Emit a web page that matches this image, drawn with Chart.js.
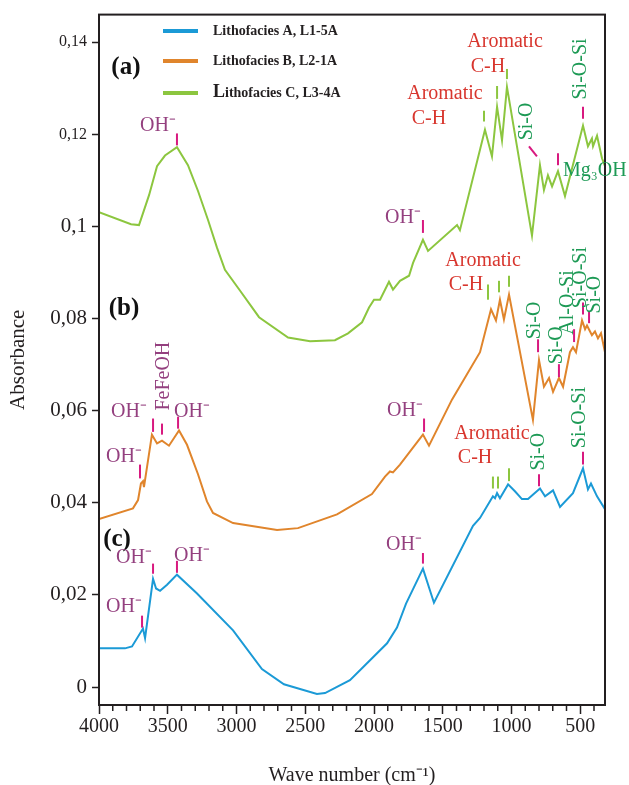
<!DOCTYPE html>
<html><head><meta charset="utf-8">
<script src="https://cdn.jsdelivr.net/npm/chart.js@4/dist/chart.umd.min.js"></script>
<style>html,body{margin:0;padding:0;background:#fff;}#wrap{width:629px;height:785px;}</style>
</head><body><div id="wrap"><canvas id="c" width="629" height="785"></canvas></div>
<script>
// ---------- data ----------
const seriesNames = ['Lithofacies A, L1-5A', 'Lithofacies B, L2-1A', 'Lithofacies C, L3-4A'];
const seriesColors = ['#1b9ad6', '#e0852c', '#8cc63f'];

const waveA = [4000,3811,3760,3680,3665,3607,3585,3556,3505,3433,3287,3025,2815,2655,2415,2356,2175,2080,1905,1833,1767,1644,1564,1280,1229,1135,1120,1105,1084,1025,975,924,880,793,756,698,647,553,480,444,422,378,320];
const absA  = [0.0084,0.0084,0.0088,0.0127,0.0106,0.0235,0.0214,0.0209,0.0222,0.0244,0.0203,0.0123,0.0039,0.0006,-0.0015,-0.0013,0.0015,0.0043,0.0095,0.0129,0.0181,0.0257,0.0183,0.0350,0.0367,0.0414,0.0410,0.0421,0.0410,0.0440,0.0425,0.0408,0.0408,0.0431,0.0414,0.0427,0.0391,0.0421,0.0475,0.0429,0.0442,0.0414,0.0386];

const waveB = [4000,3753,3716,3695,3680,3673,3615,3578,3542,3491,3418,3360,3280,3215,3171,3025,2705,2553,2269,2015,1920,1884,1862,1811,1644,1600,1433,1229,1149,1113,1084,1055,1018,844,800,764,727,698,655,625,575,553,531,487,465,451,415,393,371,349,320];
const absB  = [0.0365,0.0388,0.0406,0.0442,0.0447,0.0434,0.0548,0.0529,0.0535,0.0524,0.0557,0.0526,0.0462,0.0403,0.0378,0.0356,0.0341,0.0345,0.0375,0.0419,0.0457,0.0468,0.0466,0.0483,0.0548,0.0524,0.0624,0.0727,0.0820,0.0796,0.0841,0.0798,0.0852,0.0580,0.0710,0.0652,0.0671,0.0641,0.0671,0.0652,0.0727,0.0738,0.0727,0.0796,0.0777,0.0785,0.0764,0.0772,0.0757,0.0768,0.0727];

const waveC = [4000,3767,3709,3636,3578,3520,3433,3353,3280,3207,3142,3084,2975,2836,2625,2465,2284,2189,2087,2036,2000,1956,1891,1862,1811,1745,1716,1644,1607,1396,1375,1193,1142,1105,1069,1033,851,793,764,735,705,662,611,480,444,415,407,378,342,320];
const absC  = [0.1031,0.1005,0.1003,0.1068,0.1131,0.1154,0.1172,0.1133,0.1077,0.1014,0.0954,0.0906,0.0861,0.0803,0.0759,0.0751,0.0753,0.0768,0.0792,0.0824,0.0841,0.0841,0.0880,0.0863,0.0882,0.0893,0.0921,0.0971,0.0947,0.1003,0.0992,0.1210,0.1152,0.1260,0.1187,0.1303,0.0980,0.1133,0.1079,0.1111,0.1087,0.1120,0.1066,0.1219,0.1174,0.1191,0.1174,0.1197,0.1148,0.1131];

const xTicks = [4000,3500,3000,2500,2000,1500,1000,500];
const xMinorStep = 100;
const yTicks = [0,0.02,0.04,0.06,0.08,0.1,0.12,0.14];
const yTickLabels = ['0','0,02','0,04','0,06','0,08','0,1','0,12','0,14'];
const xRange = [320, 4000];
const yRange = [-0.0039, 0.146];

// band annotations: [text, wave, absorbance, kind]
const bandLabels = [
  ['(a)',3804,0.1346,'panel'],['(b)',3818,0.0822,'panel'],['(c)',3869,0.0321,'panel'],
  // (a)
  ['OH⁻',3571,0.1219,'oh'],['OH⁻',1789,0.1020,'oh'],
  ['Aromatic',1484,0.1288,'aro'],['C-H',1600,0.1234,'aro'],
  ['Aromatic',1047,0.1400,'aro'],['C-H',1171,0.1346,'aro'],
  ['Si-O',887,0.1228,'vgreen'],['Si-O-Si',495,0.1342,'vgreen'],['Mg₃OH',625,0.1122,'green'],
  // (b)
  ['Aromatic',1207,0.0926,'aro'],['C-H',1331,0.0874,'aro'],
  ['Si-O',829,0.0796,'vgreen'],['Si-O',669,0.0742,'vgreen'],['Al-O-Si',589,0.0835,'vgreen'],
  ['Si-O-Si',495,0.0889,'vgreen'],['Si-O',393,0.0852,'vgreen'],
  ['OH⁻',1775,0.0600,'oh'],['OH⁻',3818,0.0501,'oh'],['OH⁻',3782,0.0598,'oh'],
  ['FeFeOH',3527,0.0675,'voh'],['OH⁻',3324,0.0598,'oh'],
  // (c)
  ['OH⁻',3745,0.0280,'oh'],['OH⁻',3324,0.0285,'oh'],['OH⁻',3818,0.0175,'oh'],['OH⁻',1782,0.0309,'oh'],
  ['Aromatic',1142,0.0550,'aro'],['C-H',1265,0.0498,'aro'],
  ['Si-O',800,0.0511,'vgreen'],['Si-O-Si',502,0.0585,'vgreen']
];
// band markers: [wave1, abs1, wave2, abs2, kind]
const bandMarks = [
  [3433,0.1202,3433,0.1176,'m'],[1644,0.1014,1644,0.0986,'m'],
  [1200,0.1251,1200,0.1228,'g'],[1105,0.1305,1105,0.1277,'g'],[1033,0.1342,1033,0.1320,'g'],
  [873,0.1174,815,0.1152,'m'],[480,0.1260,480,0.1234,'m'],[662,0.1159,662,0.1133,'m'],
  [1171,0.0874,1171,0.0841,'g'],[1091,0.0882,1091,0.0857,'g'],[1018,0.0893,1018,0.0869,'g'],
  [807,0.0755,807,0.0727,'m'],[655,0.0701,655,0.0673,'m'],[545,0.0777,545,0.0749,'m'],
  [480,0.0835,480,0.0809,'m'],[436,0.0816,436,0.0790,'m'],[1636,0.0583,1636,0.0554,'m'],
  [3702,0.0483,3702,0.0453,'m'],[3607,0.0583,3607,0.0554,'m'],[3542,0.0572,3542,0.0548,'m'],
  [3425,0.0587,3425,0.0561,'m'],
  [3607,0.0268,3607,0.0246,'m'],[3433,0.0274,3433,0.0248,'m'],[3687,0.0155,3687,0.0129,'m'],
  [1644,0.0291,1644,0.0268,'m'],
  [1135,0.0457,1135,0.0431,'g'],[1098,0.0457,1098,0.0431,'g'],[1018,0.0475,1018,0.0447,'g'],
  [800,0.0462,800,0.0436,'m'],[480,0.0511,480,0.0483,'m']
];

// ---------- chart ----------
const SERIF = '"Liberation Serif", "Times New Roman", serif';
const INK = '#231f20';
const styles = {
  panel: {color:'#111', font:'bold 25px '+SERIF, rot:false},
  oh:    {color:'#94407f', font:'20px '+SERIF, rot:false},
  voh:   {color:'#94407f', font:'20px '+SERIF, rot:true},
  aro:   {color:'#d8362e', font:'20px '+SERIF, rot:false},
  vgreen:{color:'#1d9a55', font:'20px '+SERIF, rot:true},
  green: {color:'#1d9a55', font:'20px '+SERIF, rot:false, left:true}
};
const markColors = {m:'#d8197f', g:'#8cc63f'};

function pts(xs, ys){ return xs.map((x,i)=>({x:x, y:ys[i]})); }

const overlay = {
  id:'overlay',
  afterDatasetsDraw(chart){
    const {ctx, chartArea:ca, scales:{x, y}} = chart;
    ctx.save();
    // frame
    ctx.strokeStyle = INK; ctx.lineWidth = 2;
    ctx.strokeRect(ca.left, ca.top, ca.right-ca.left, ca.bottom-ca.top);
    // minor ticks
    ctx.lineWidth = 1.5;
    for (let w = 400; w <= xRange[1]; w += xMinorStep){
      if (xTicks.includes(w)) continue;
      const px = x.getPixelForValue(w);
      ctx.beginPath(); ctx.moveTo(px, ca.bottom); ctx.lineTo(px, ca.bottom+6); ctx.stroke();
    }
    // legend
    const lx = 163, ly = [31, 61, 93];
    chart.data.datasets.forEach((ds, i) => {
      ctx.strokeStyle = ds.borderColor; ctx.lineWidth = 4;
      ctx.beginPath(); ctx.moveTo(lx, ly[i]); ctx.lineTo(lx+35, ly[i]); ctx.stroke();
      ctx.fillStyle = INK; ctx.textBaseline = 'middle'; ctx.textAlign = 'left';
      const name = ds.label;
      if (i === 2) {
        ctx.font = 'bold 18px '+SERIF;
        ctx.fillText(name[0], 213, ly[i]-1);
        const w0 = ctx.measureText(name[0]).width;
        ctx.font = 'bold 14px '+SERIF;
        ctx.fillText(name.slice(1), 213+w0, ly[i]);
      } else {
        ctx.font = 'bold 14px '+SERIF;
        ctx.fillText(name, 213, ly[i]);
      }
    });
    // markers
    bandMarks.forEach(m => {
      ctx.strokeStyle = markColors[m[4]]; ctx.lineWidth = 2;
      ctx.beginPath();
      ctx.moveTo(x.getPixelForValue(m[0]), y.getPixelForValue(m[1]));
      ctx.lineTo(x.getPixelForValue(m[2]), y.getPixelForValue(m[3]));
      ctx.stroke();
    });
    // labels
    bandLabels.forEach(l => {
      const st = styles[l[3]];
      const px = x.getPixelForValue(l[1]), py = y.getPixelForValue(l[2]);
      ctx.fillStyle = st.color; ctx.font = st.font; ctx.textBaseline = 'middle';
      if (st.rot) {
        ctx.save(); ctx.translate(px, py); ctx.rotate(-Math.PI/2);
        ctx.textAlign = 'center'; ctx.fillText(l[0], 0, 0); ctx.restore();
      } else {
        ctx.textAlign = st.left ? 'left' : 'center';
        ctx.fillText(l[0], px, py);
      }
    });
    ctx.restore();
  }
};

new Chart(document.getElementById('c'), {
  type: 'line',
  data: {
    datasets: [
      {label: seriesNames[0], data: pts(waveA, absA), borderColor: seriesColors[0]},
      {label: seriesNames[1], data: pts(waveB, absB), borderColor: seriesColors[1]},
      {label: seriesNames[2], data: pts(waveC, absC), borderColor: seriesColors[2]}
    ].map(d => Object.assign(d, {borderWidth: 2, pointRadius: 0, tension: 0, fill: false}))
  },
  options: {
    responsive: false, animation: false, devicePixelRatio: 1,
    layout: {padding: {top: 10, right: 24, left: 0, bottom: 0}},
    plugins: {legend: {display: false}, tooltip: {enabled: false}},
    scales: {
      x: {
        type: 'linear', reverse: true, min: xRange[0], max: xRange[1],
        afterBuildTicks: s => { s.ticks = xTicks.map(v => ({value: v})); },
        afterFit: s => { s.height = 80; },
        grid: {drawOnChartArea: false, tickLength: 9, tickColor: INK, tickWidth: 1.5},
        border: {display: true, color: INK, width: 2},
        ticks: {color: INK, font: {family: SERIF, size: 20}, padding: 1, maxRotation: 0,
                callback: v => String(v)},
        title: {display: true, text: 'Wave number (cm⁻¹)', color: INK,
                font: {family: SERIF, size: 20}, padding: {top: 0, bottom: -3}}
      },
      y: {
        type: 'linear', min: yRange[0], max: yRange[1],
        afterBuildTicks: s => { s.ticks = yTicks.map(v => ({value: v})); },
        afterFit: s => { s.width = 99; },
        grid: {drawOnChartArea: false, tickLength: 7, tickColor: INK, tickWidth: 1.5},
        border: {display: true, color: INK, width: 2},
        ticks: {color: INK, padding: 5,
                font: c => ({family: SERIF, size: (c.tick && c.tick.value > 0.11) ? 16 : 21}),
                callback: (v, i) => yTickLabels[i]},
        title: {display: true, text: 'Absorbance', color: INK,
                font: {family: SERIF, size: 21}, padding: {top: 6, bottom: 0}}
      }
    }
  },
  plugins: [overlay]
});
</script></body></html>
